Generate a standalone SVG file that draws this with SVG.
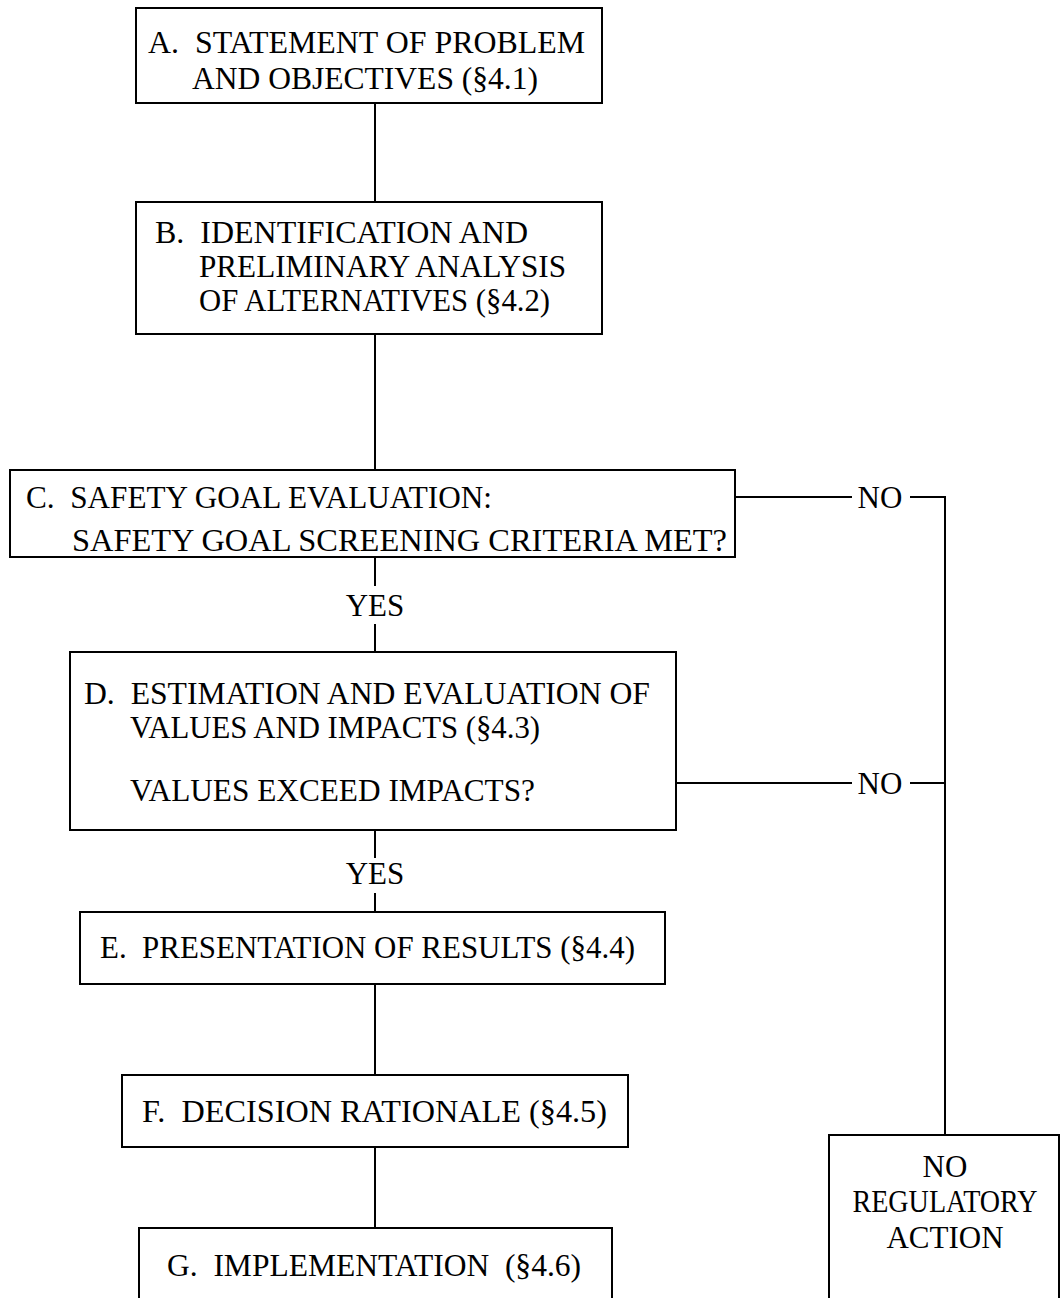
<svg xmlns="http://www.w3.org/2000/svg" width="1061" height="1298" viewBox="0 0 1061 1298">
<style>
.n rect{fill:#fff;stroke:#000;stroke-width:2}
.c line,.c polyline{stroke:#000;stroke-width:2;fill:none}
text{font-family:"Liberation Serif","Times New Roman",serif;font-size:31px;fill:#000;white-space:pre}
.m{text-anchor:middle}
</style>
<rect width="1061" height="1298" fill="#fff"/>
<g class="c" id="connectors">
<line x1="375" y1="103" x2="375" y2="202"/>
<line x1="375" y1="334" x2="375" y2="470"/>
<line x1="375" y1="557" x2="375" y2="586"/>
<line x1="375" y1="624" x2="375" y2="652"/>
<line x1="375" y1="830" x2="375" y2="858"/>
<line x1="375" y1="893" x2="375" y2="912"/>
<line x1="375" y1="984" x2="375" y2="1075"/>
<line x1="375" y1="1147" x2="375" y2="1228"/>
<line x1="735" y1="497" x2="852" y2="497"/>
<polyline points="910,497 945,497 945,1135"/>
<line x1="676" y1="783" x2="852" y2="783"/>
<line x1="910" y1="783" x2="945" y2="783"/>
<text class="m" x="880" y="508">NO</text>
<text class="m" x="880" y="794">NO</text>
<text class="m" x="375" y="616">YES</text>
<text class="m" x="375" y="884">YES</text>
</g>
<g class="n" id="A"><rect x="136" y="8" width="466" height="95"/>
<text x="148" y="53" textLength="437" lengthAdjust="spacingAndGlyphs">A.&#160;&#160;STATEMENT OF PROBLEM</text>
<text x="192" y="89" textLength="346" lengthAdjust="spacingAndGlyphs">AND OBJECTIVES (§4.1)</text></g>
<g class="n" id="B"><rect x="136" y="202" width="466" height="132"/>
<text x="155" y="243" textLength="373" lengthAdjust="spacingAndGlyphs">B.&#160;&#160;IDENTIFICATION AND</text>
<text x="199" y="277" textLength="367" lengthAdjust="spacingAndGlyphs">PRELIMINARY ANALYSIS</text>
<text x="199" y="311" textLength="351" lengthAdjust="spacingAndGlyphs">OF ALTERNATIVES (§4.2)</text></g>
<g class="n" id="C"><rect x="10" y="470" width="725" height="87"/>
<text x="26" y="508" textLength="466" lengthAdjust="spacingAndGlyphs">C.&#160;&#160;SAFETY GOAL EVALUATION:</text>
<text x="72" y="551" textLength="655" lengthAdjust="spacingAndGlyphs">SAFETY GOAL SCREENING CRITERIA MET?</text></g>
<g class="n" id="D"><rect x="70" y="652" width="606" height="178"/>
<text x="84" y="704" textLength="566" lengthAdjust="spacingAndGlyphs">D.&#160;&#160;ESTIMATION AND EVALUATION OF</text>
<text x="130" y="738" textLength="410" lengthAdjust="spacingAndGlyphs">VALUES AND IMPACTS (§4.3)</text>
<text x="130" y="801" textLength="405" lengthAdjust="spacingAndGlyphs">VALUES EXCEED IMPACTS?</text></g>
<g class="n" id="E"><rect x="80" y="912" width="585" height="72"/>
<text x="100" y="958" textLength="535" lengthAdjust="spacingAndGlyphs">E.&#160;&#160;PRESENTATION OF RESULTS (§4.4)</text></g>
<g class="n" id="F"><rect x="122" y="1075" width="506" height="72"/>
<text x="142" y="1122" textLength="465" lengthAdjust="spacingAndGlyphs">F.&#160;&#160;DECISION RATIONALE (§4.5)</text></g>
<g class="n" id="G"><rect x="139" y="1228" width="473" height="80"/>
<text x="167" y="1276" textLength="414" lengthAdjust="spacingAndGlyphs">G.&#160;&#160;IMPLEMENTATION&#160;&#160;(§4.6)</text></g>
<g class="n" id="NRA"><rect x="829" y="1135" width="230" height="175"/>
<text class="m" x="945" y="1177">NO</text>
<text class="m" x="945" y="1212" textLength="185" lengthAdjust="spacingAndGlyphs">REGULATORY</text>
<text class="m" x="945" y="1248">ACTION</text></g>
</svg>
